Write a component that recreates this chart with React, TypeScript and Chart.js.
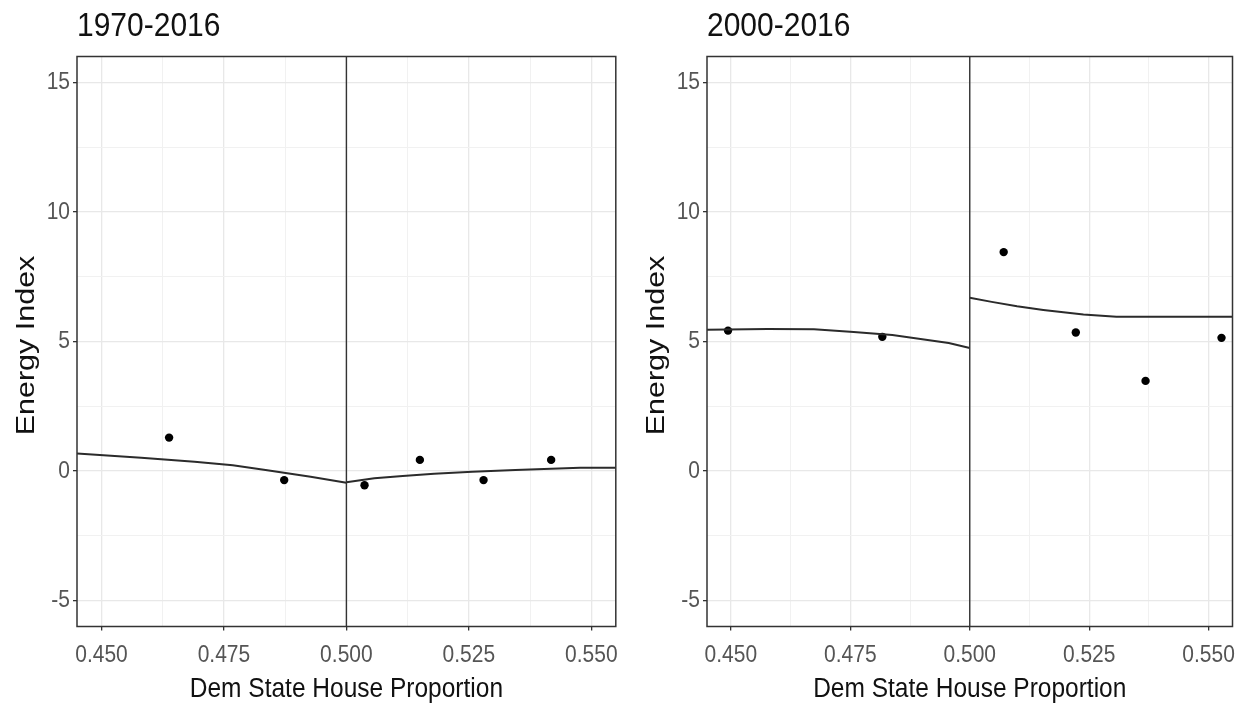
import React, { useEffect, useRef } from 'react';
import { Chart, registerables } from 'chart.js';

Chart.register(...registerables);

// ---------- axes / labels ----------
const xMajorTicks = [0.45, 0.475, 0.5, 0.525, 0.55];
const xMinorTicks = [0.4625, 0.4875, 0.5125, 0.5375];
const xTickLabels = ['0.450', '0.475', '0.500', '0.525', '0.550'];
const yMajorTicks = [-5, 0, 5, 10, 15];
const yMinorTicks = [-2.5, 2.5, 7.5, 12.5];
const yTickLabels = ['-5', '0', '5', '10', '15'];
const xLimits = [0.445, 0.555];
const yLimits = [-6, 16];
const cutoff = 0.5;

const panelTitles = ['1970-2016', '2000-2016'];
const xAxisTitle = 'Dem State House Proportion';
const yAxisTitle = 'Energy Index';

// ---------- panel 1: 1970-2016 ----------
const p1PointX = [0.4638, 0.4873, 0.5037, 0.515, 0.528, 0.5418];
const p1PointY = [1.29, -0.35, -0.55, 0.43, -0.35, 0.43];
const p1FitLeftX = [0.445, 0.4581, 0.469, 0.4768, 0.4835, 0.4927, 0.5];
const p1FitLeftY = [0.68, 0.51, 0.36, 0.22, 0.04, -0.22, -0.45];
const p1FitRightX = [0.5, 0.5057, 0.5115, 0.5179, 0.5257, 0.5345, 0.5477, 0.555];
const p1FitRightY = [-0.43, -0.28, -0.19, -0.1, -0.03, 0.04, 0.13, 0.13];

// ---------- panel 2: 2000-2016 ----------
const p2PointX = [0.4494, 0.4817, 0.5071, 0.5222, 0.5368, 0.5527];
const p2PointY = [5.42, 5.18, 8.45, 5.35, 3.48, 5.14];
const p2FitLeftX = [0.445, 0.4577, 0.4674, 0.4757, 0.4838, 0.4897, 0.4956, 0.5];
const p2FitLeftY = [5.45, 5.48, 5.47, 5.37, 5.25, 5.1, 4.94, 4.75];
const p2FitRightX = [0.5, 0.5046, 0.5099, 0.5154, 0.5196, 0.5238, 0.5307, 0.555];
const p2FitRightY = [6.69, 6.53, 6.36, 6.22, 6.13, 6.04, 5.96, 5.96];

const FONT = '"Liberation Sans", Arial, sans-serif';
const STRETCH = 1.13;

const zip = (xs: number[], ys: number[]) => xs.map((x, i) => ({ x, y: ys[i] }));
const near = (arr: number[], v: number) => arr.some((a) => Math.abs(a - v) < 1e-9);

function drawText(
  ctx: CanvasRenderingContext2D,
  text: string,
  x: number,
  y: number,
  align: CanvasTextAlign,
  baseline: CanvasTextBaseline,
  font: string,
  color: string,
  k: number,
  rotate = false
) {
  ctx.save();
  ctx.translate(x, y);
  ctx.scale(1, k);
  if (rotate) ctx.rotate(-Math.PI / 2);
  ctx.font = font;
  ctx.fillStyle = color;
  ctx.textAlign = align;
  ctx.textBaseline = baseline;
  ctx.fillText(text, 0, 0);
  ctx.restore();
}

const ggPlugin = {
  id: 'gg',
  afterDatasetsDraw(chart: any) {
    const { ctx, chartArea: ca } = chart;
    ctx.save();
    ctx.strokeStyle = '#333333';
    ctx.lineWidth = 1.5;
    ctx.strokeRect(ca.left, ca.top, ca.right - ca.left, ca.bottom - ca.top);
    ctx.restore();
  },
  afterDraw(chart: any, _args: any, opts: any) {
    const { ctx, chartArea: ca, scales } = chart;
    const xs = scales.x;
    const ys = scales.y;
    xMajorTicks.forEach((v, i) => {
      drawText(ctx, xTickLabels[i], xs.getPixelForValue(v), ca.bottom + 35, 'center', 'alphabetic', `21px ${FONT}`, '#555555', STRETCH);
    });
    yMajorTicks.forEach((v, i) => {
      drawText(ctx, yTickLabels[i], ca.left - 7, ys.getPixelForValue(v), 'right', 'middle', `21px ${FONT}`, '#555555', STRETCH);
    });
    drawText(ctx, xAxisTitle, (ca.left + ca.right) / 2, ca.bottom + 70.5, 'center', 'alphabetic', `24.5px ${FONT}`, '#111111', STRETCH);
    drawText(ctx, yAxisTitle, ca.left - 50, (ca.top + ca.bottom) / 2 + 4, 'center', 'middle', `25px ${FONT}`, '#111111', 1.22, true);
    drawText(ctx, opts.title, ca.left, 36, 'left', 'alphabetic', `30px ${FONT}`, '#111111', STRETCH);
  },
};

type PanelProps = {
  left: number;
  width: number;
  axisW: number;
  padRight: number;
  title: string;
  pts: { x: number; y: number }[];
  fitA: { x: number; y: number }[];
  fitB: { x: number; y: number }[];
};

function Panel({ left, width, axisW, padRight, title, pts, fitA, fitB }: PanelProps) {
  const ref = useRef<HTMLCanvasElement | null>(null);
  useEffect(() => {
    if (!ref.current) return;
    const lineStyle = {
      showLine: true,
      pointRadius: 0,
      borderColor: '#2b2b2b',
      borderWidth: 2,
      fill: false,
      tension: 0,
    };
    const chart = new Chart(ref.current, {
      type: 'scatter',
      data: {
        datasets: [
          {
            data: [
              { x: cutoff, y: yLimits[0] },
              { x: cutoff, y: yLimits[1] },
            ],
            ...lineStyle,
            borderColor: '#333333',
            borderWidth: 1.4,
          },
          { data: fitA, ...lineStyle },
          { data: fitB, ...lineStyle },
          {
            data: pts,
            pointRadius: 4.2,
            pointBackgroundColor: '#000000',
            pointBorderColor: '#000000',
            pointBorderWidth: 0,
            showLine: false,
          },
        ],
      } as any,
      options: {
        animation: false,
        responsive: false,
        maintainAspectRatio: false,
        events: [],
        layout: { padding: { left: 0, right: padRight, top: 56.5, bottom: 0 } },
        plugins: {
          legend: { display: false },
          tooltip: { enabled: false },
          title: { display: false },
          gg: { title },
        } as any,
        scales: {
          x: {
            type: 'linear',
            min: xLimits[0],
            max: xLimits[1],
            afterBuildTicks: (s: any) => {
              s.ticks = [...xMajorTicks, ...xMinorTicks].sort((a, b) => a - b).map((v) => ({ value: v }));
            },
            afterFit: (s: any) => {
              s.height = 704 - 626.5;
            },
            ticks: { display: false },
            border: { display: false },
            grid: {
              drawTicks: true,
              tickLength: 4,
              color: (c: any) => (near(xMajorTicks, c.tick?.value) ? '#E8E8E8' : '#F1F1F1'),
              lineWidth: (c: any) => (near(xMajorTicks, c.tick?.value) ? 1.3 : 1),
              tickColor: (c: any) => (near(xMajorTicks, c.tick?.value) ? '#333333' : 'rgba(0,0,0,0)'),
              tickWidth: 1.3,
            },
          },
          y: {
            type: 'linear',
            min: yLimits[0],
            max: yLimits[1],
            afterBuildTicks: (s: any) => {
              s.ticks = [...yMajorTicks, ...yMinorTicks].sort((a, b) => a - b).map((v) => ({ value: v }));
            },
            afterFit: (s: any) => {
              s.width = axisW;
            },
            ticks: { display: false },
            border: { display: false },
            grid: {
              drawTicks: true,
              tickLength: 4,
              color: (c: any) => (near(yMajorTicks, c.tick?.value) ? '#E8E8E8' : '#F1F1F1'),
              lineWidth: (c: any) => (near(yMajorTicks, c.tick?.value) ? 1.3 : 1),
              tickColor: (c: any) => (near(yMajorTicks, c.tick?.value) ? '#333333' : 'rgba(0,0,0,0)'),
              tickWidth: 1.3,
            },
          },
        },
      } as any,
      plugins: [ggPlugin as any],
    });
    return () => chart.destroy();
  }, []);
  return (
    <canvas
      ref={ref}
      width={width}
      height={704}
      style={{ position: 'absolute', left, top: 0, width, height: 704, display: 'block' }}
    />
  );
}

export default function App() {
  return (
    <div style={{ position: 'absolute', left: 0, top: 0, width: 1241, height: 704, background: '#ffffff', overflow: 'hidden' }}>
      <Panel
        left={0}
        width={620}
        axisW={77}
        padRight={2}
        title={panelTitles[0]}
        pts={zip(p1PointX, p1PointY)}
        fitA={zip(p1FitLeftX, p1FitLeftY)}
        fitB={zip(p1FitRightX, p1FitRightY)}
      />
      <Panel
        left={620}
        width={621}
        axisW={87}
        padRight={8.5}
        title={panelTitles[1]}
        pts={zip(p2PointX, p2PointY)}
        fitA={zip(p2FitLeftX, p2FitLeftY)}
        fitB={zip(p2FitRightX, p2FitRightY)}
      />
    </div>
  );
}
